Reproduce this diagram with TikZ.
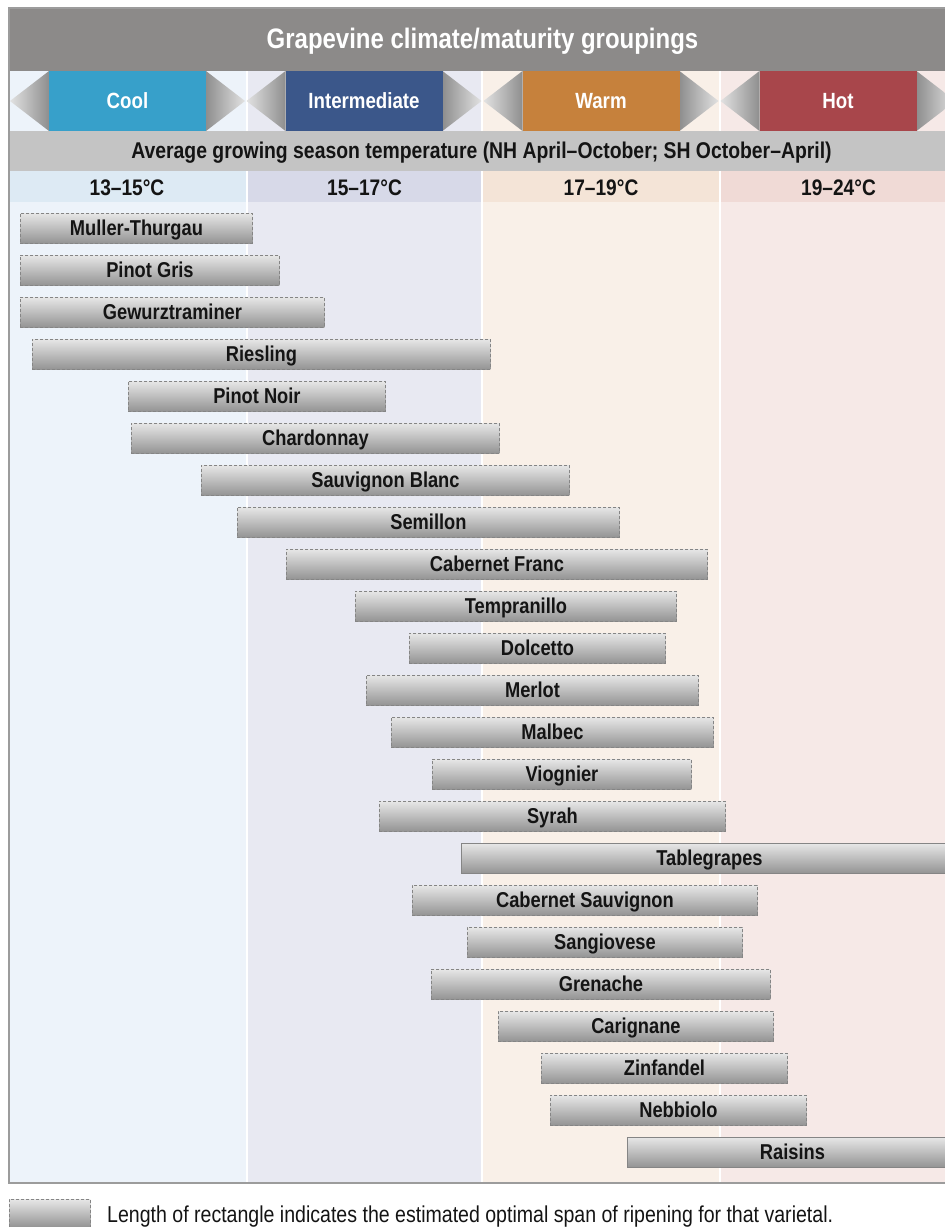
\documentclass[tikz,border=0pt]{standalone}
\usepackage{fontspec}
\setmainfont{Liberation Sans}[FakeStretch=0.85]
\definecolor{titlegray}{HTML}{8C8A89}
\definecolor{bandgray}{HTML}{C4C4C4}
\definecolor{coolc}{HTML}{37A0CA}
\definecolor{interc}{HTML}{3B578A}
\definecolor{warmc}{HTML}{C6813C}
\definecolor{hotc}{HTML}{A8464B}
\definecolor{coolbg}{HTML}{EDF3FA}
\definecolor{interbg}{HTML}{E8E9F2}
\definecolor{warmbg}{HTML}{F9F0E8}
\definecolor{hotbg}{HTML}{F6E9E7}
\definecolor{cooltr}{HTML}{DDEAF4}
\definecolor{intertr}{HTML}{D7D9E8}
\definecolor{warmtr}{HTML}{F4E4D7}
\definecolor{hottr}{HTML}{F0DAD6}
\definecolor{bartop}{HTML}{E6E6E6}
\definecolor{barbot}{HTML}{939393}
\definecolor{barline}{HTML}{858585}
\definecolor{triL}{HTML}{E2E2E2}
\definecolor{triD}{HTML}{8E8E8E}
\definecolor{framec}{HTML}{9C9C9C}
\definecolor{textc}{HTML}{141414}
\begin{document}
\begin{tikzpicture}[x=1pt,y=-1pt,
  bar/.style={draw=barline, dash pattern=on 3pt off 2pt, line width=0.9pt,
    top color=bartop, bottom color=barbot, minimum height=30pt, inner sep=0pt,
    anchor=north west, font=\bfseries\fontsize{21.5}{21.5}\selectfont, text=textc,
    text height=15pt, text depth=0pt},
  solidbar/.style={bar, solid},
  catbox/.style={minimum width=157pt, minimum height=60pt, inner sep=0pt,
    text=white, font=\bfseries\fontsize{22}{22}\selectfont,
    text height=15pt, text depth=0pt},
  hdr/.style={anchor=base, inner sep=0pt, font=\bfseries\fontsize{22.5}{22.5}\selectfont, text=textc},
]
\useasboundingbox (0,0) rectangle (945,1227);
\clip (0,0) rectangle (945,1227);

% column backgrounds
\fill[coolbg]  (9,71)   rectangle (247,1183);
\fill[interbg] (247,71) rectangle (482,1183);
\fill[warmbg]  (482,71) rectangle (720,1183);
\fill[hotbg]   (720,71) rectangle (960,1183);
% temperature row
\fill[cooltr]  (9,171)   rectangle (247,202);
\fill[intertr] (247,171) rectangle (482,202);
\fill[warmtr]  (482,171) rectangle (720,202);
\fill[hottr]   (720,171) rectangle (960,202);
% separators
\foreach \sx in {247,482,720} \draw[white, line width=2pt] (\sx,71) -- (\sx,1183);
% grey band
\fill[bandgray] (9,131) rectangle (960,171);
% title bar
\fill[titlegray] (9,8) rectangle (960,71);
\node[anchor=base, inner sep=0pt, text=white, font=\bfseries\fontsize{28.2}{28.2}\selectfont] (title) at (482.5,48) {Grapevine climate/maturity groupings};

% categories
\foreach \n/\cx/\col/\lab in {cool/127.5/coolc/Cool, inter/364/interc/Intermediate, warm/601/warmc/Warm, hot/838/hotc/Hot}{
  \shade[left color=triL, right color=triD] (\cx-78.5-39,101) -- (\cx-78.5,71) -- (\cx-78.5,131) -- cycle;
  \shade[left color=triD, right color=triL] (\cx+78.5,71) -- (\cx+78.5+39,101) -- (\cx+78.5,131) -- cycle;
  \node[catbox, fill=\col] (\n) at (\cx,101) {\lab};
}

\node[hdr, font=\bfseries\fontsize{22.8}{22.8}\selectfont] (avg) at (481.5,158.3) {Average growing season temperature (NH April–October; SH October–April)};
\node[hdr] (t1) at (127,195) {13–15°C};
\node[hdr] (t2) at (364.5,195) {15–17°C};
\node[hdr] (t3) at (601,195) {17–19°C};
\node[hdr] (t4) at (838.5,195) {19–24°C};

% bars
\foreach \i/\a/\b/\t in {0/20/252/Muller-Thurgau, 1/20/279/Pinot Gris, 2/20/324/Gewurztraminer,
  3/32/490/Riesling, 4/128/385/Pinot Noir, 5/131/499/Chardonnay, 6/201/569/Sauvignon Blanc,
  7/237/619/Semillon, 8/286/707/Cabernet Franc, 9/355/676/Tempranillo, 10/409/665/Dolcetto,
  11/366/698/Merlot, 12/391/713/Malbec, 13/432/691/Viognier, 14/379/725/Syrah,
  16/412/757/Cabernet Sauvignon, 17/467/742/Sangiovese, 18/431/770/Grenache,
  19/498/773/Carignane, 20/541/787/Zinfandel, 21/550/806/Nebbiolo}{
  \pgfmathsetmacro\w{\b-\a}
  \pgfmathsetmacro\yy{213+42*\i}
  \node[bar, minimum width=\w pt] (b\i) at (\a,\yy) {\t};
}
\node[solidbar, minimum width=496pt] (b15) at (461,843) {Tablegrapes};
\node[solidbar, minimum width=330pt] (b22) at (627,1137) {Raisins};

% frame
\draw[framec, line width=1.2pt] (960,8) -- (9,8) -- (9,1183) -- (960,1183);

% legend
\node[bar, minimum width=81pt, minimum height=28pt] (legsw) at (9,1199) {};
\node[anchor=base west, inner sep=0pt, text=textc, font=\fontsize{23}{23}\selectfont] (legtxt) at (107,1222.5) {Length of rectangle indicates the estimated optimal span of ripening for that varietal.};
\end{tikzpicture}
\end{document}
